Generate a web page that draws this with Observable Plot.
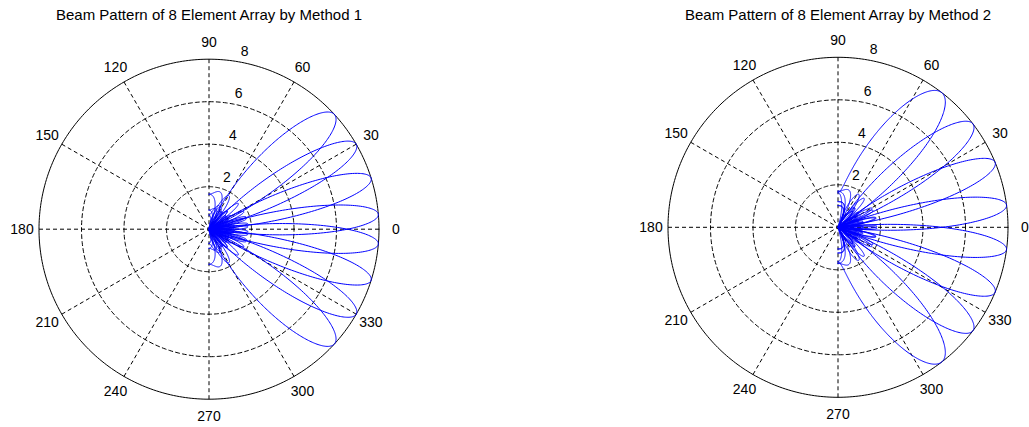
<!DOCTYPE html>
<html><head><meta charset="utf-8">
<script src="https://cdn.jsdelivr.net/npm/d3@7"></script>
<script src="https://cdn.jsdelivr.net/npm/@observablehq/plot@0.6"></script>
<style>
html,body{margin:0;padding:0;background:#fff;}
#wrap{position:relative;width:1029px;height:427px;overflow:hidden;background:#fff;}
#wrap svg{position:absolute;top:0;}
</style></head><body><div id="wrap"></div>
<script>
// ---- data ----
const titles = ["Beam Pattern of 8 Element Array by Method 1", "Beam Pattern of 8 Element Array by Method 2"];
const elementCount = 8;            // elements in the array (peak of each beam = 8)
const elementSpacing = 0.5;        // spacing in wavelengths
const steerMethod1 = [-42.5, -30, -17.5, -5, 5, 17.5, 30, 42.5];   // beam directions, degrees
const steerMethod2 = [-52.5, -37.5, -22.5, -7.5, 7.5, 22.5, 37.5, 52.5];
const angleTicks = [0, 30, 60, 90, 120, 150, 180, 210, 240, 270, 300, 330];
const ringTicks = [2, 4, 6];
const radialTickLabels = [2, 4, 6, 8];
const rMax = 8;

// ---- layout ----
const H = 427;
const pxPerUnit = 170 / rMax;
const panels = [
  {left: 0,   width: 514, cx: 208.5, cy: 228.7, steer: steerMethod1, title: titles[0]},
  {left: 514, width: 515, cx: 323.5, cy: 226.8, steer: steerMethod2, title: titles[1]}
];
const rad = d => d * Math.PI / 180;

// array factor of a uniform linear array steered to theta0
function arrayFactor(thetaDeg, steerDeg) {
  const psi = 2 * Math.PI * elementSpacing * (Math.sin(rad(thetaDeg)) - Math.sin(rad(steerDeg)));
  let re = 0, im = 0;
  for (let n = 0; n < elementCount; n++) { re += Math.cos(n * psi); im += Math.sin(n * psi); }
  return Math.hypot(re, im);
}
const thetaSamples = d3.range(-90, 90.0001, 0.2);

function beamPoints(steer) {
  const pts = [];
  for (const s of steer) for (const t of thetaSamples) {
    const r = arrayFactor(t, s);
    pts.push({beam: s, x: r * Math.cos(rad(t)), y: r * Math.sin(rad(t))});
  }
  return pts;
}
const circleSamples = d3.range(0, 360.0001, 1);
function circlePoints(rs) {
  const pts = [];
  for (const r of rs) for (const a of circleSamples) pts.push({r, x: r * Math.cos(rad(a)), y: r * Math.sin(rad(a))});
  return pts;
}
const spokes = angleTicks.filter(a => a >= 30 && a <= 180).map(a => ({
  x1: -rMax * Math.cos(rad(a)), y1: -rMax * Math.sin(rad(a)),
  x2:  rMax * Math.cos(rad(a)), y2:  rMax * Math.sin(rad(a))
}));
const angleLabelData = angleTicks.map(a => ({label: String(a), x: 1.1 * rMax * Math.cos(rad(a)), y: 1.1 * rMax * Math.sin(rad(a))}));
const radialLabelData = radialTickLabels.map(v => ({label: "\u00a0\u00a0" + v, x: (v + 0.1) * Math.cos(rad(82)), y: (v + 0.1) * Math.sin(rad(82))}));

const wrap = document.getElementById("wrap");
for (const p of panels) {
  const chart = Plot.plot({
    width: p.width, height: H, margin: 0,
    x: {domain: [-p.cx / pxPerUnit, (p.width - p.cx) / pxPerUnit], axis: null},
    y: {domain: [-(H - p.cy) / pxPerUnit, p.cy / pxPerUnit], axis: null},
    style: {fontFamily: "'Liberation Sans', Arial, sans-serif", fontSize: "14px", background: "white", color: "black", overflow: "visible"},
    marks: [
      Plot.line(circlePoints(ringTicks), {x: "x", y: "y", z: "r", stroke: "black", strokeWidth: 1, strokeDasharray: "4,3"}),
      Plot.link(spokes, {x1: "x1", y1: "y1", x2: "x2", y2: "y2", stroke: "black", strokeWidth: 1, strokeDasharray: "4,3"}),
      Plot.line(circlePoints([rMax]), {x: "x", y: "y", z: "r", stroke: "black", strokeWidth: 1}),
      Plot.line(beamPoints(p.steer), {x: "x", y: "y", z: "beam", stroke: "#0000ff", strokeWidth: 1}),
      Plot.text(angleLabelData, {x: "x", y: "y", text: "label", fill: "black", fontSize: 14, textAnchor: "middle", lineAnchor: "middle"}),
      Plot.text(radialLabelData, {x: "x", y: "y", text: "label", fill: "black", fontSize: 14, textAnchor: "start", lineAnchor: "bottom", dy: -3}),
      Plot.text([p.title], {x: () => 0, frameAnchor: "top", dy: 15, text: d => d, fill: "black", fontSize: 15, textAnchor: "middle", lineAnchor: "middle"})
    ]
  });
  chart.style.left = p.left + "px";
  wrap.appendChild(chart);
}
</script></body></html>
